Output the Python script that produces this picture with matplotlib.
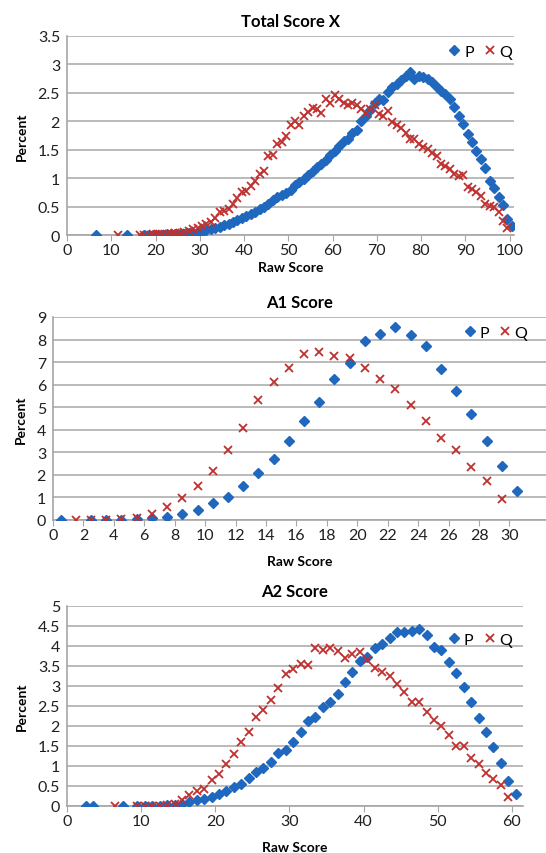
import matplotlib
matplotlib.use("Agg")
import matplotlib.pyplot as plt
from matplotlib.ticker import FuncFormatter

# ---- Total Score X ----
total_p_x = [6.5, 13.5] + [s + 0.5 for s in range(17, 101)]
total_p_y = [0, 0,
             0, 0, 0, 0, 0, 0.01, 0.01, 0.01, 0.02, 0.02, 0.03, 0.04, 0.05,
             0.06, 0.08, 0.1, 0.12, 0.14, 0.17, 0.2, 0.23, 0.26, 0.3,
             0.33, 0.37, 0.41, 0.45, 0.5, 0.55, 0.61, 0.66, 0.71, 0.74,
             0.8, 0.88, 0.94, 0.99, 1.05, 1.13, 1.19, 1.25, 1.32, 1.4,
             1.48, 1.57, 1.65, 1.69, 1.8, 1.85, 2.0, 2.1, 2.2, 2.32,
             2.4, 2.38, 2.52, 2.6, 2.65, 2.72, 2.8,
             2.87, 2.75, 2.79, 2.78, 2.75, 2.69, 2.6, 2.54, 2.48, 2.39,
             2.25, 2.1, 1.95, 1.78, 1.63, 1.48, 1.34, 1.17, 0.95, 0.82,
             0.66, 0.52, 0.29, 0.16]
total_q_x = [11.5, 16.5] + [s + 0.5 for s in range(17, 100)]
total_q_y = [0, 0,
             0, 0, 0.01, 0.01, 0.01, 0.02, 0.02, 0.03, 0.04,
             0.05, 0.07, 0.1, 0.12, 0.15, 0.19, 0.23, 0.3, 0.4, 0.42,
             0.46, 0.55, 0.65, 0.75, 0.78, 0.87, 0.95, 1.07, 1.13, 1.39,
             1.4, 1.6, 1.64, 1.74, 1.93, 2.0, 1.93, 2.09, 2.17, 2.24,
             2.21, 2.15, 2.4, 2.33, 2.46, 2.39, 2.32, 2.28, 2.33, 2.28,
             2.21, 2.15, 2.21, 2.28, 2.12, 2.09, 2.18, 1.98, 1.93, 1.89,
             1.8, 1.69, 1.69, 1.6, 1.54, 1.52, 1.44, 1.39, 1.25, 1.22,
             1.16, 1.07, 1.04, 1.05, 0.84, 0.81, 0.75, 0.69, 0.54, 0.51,
             0.49, 0.4, 0.25, 0.13]

# ---- A1 Score ----
a1_p_x = [0.5] + [s + 0.5 for s in range(2, 31)]
a1_p_y = [0, 0, 0, 0.01, 0.05, 0.07, 0.15, 0.28, 0.43, 0.77, 1.04, 1.51,
          2.08, 2.7, 3.52, 4.41, 5.22, 6.26, 6.97, 7.92, 8.25, 8.56, 8.19,
          7.72, 6.71, 5.7, 4.69, 3.52, 2.39, 1.29]
a1_q_x = [s + 0.5 for s in range(1, 30)]
a1_q_y = [0, 0, 0, 0.04, 0.1, 0.27, 0.58, 0.99, 1.51, 2.18, 3.12, 4.1,
          5.33, 6.14, 6.74, 7.36, 7.45, 7.27, 7.2, 6.74, 6.26, 5.79, 5.1,
          4.41, 3.64, 3.09, 2.37, 1.71, 0.95]

# ---- A2 Score ----
a2_p_x = [2.5, 3.5, 7.5] + [s + 0.5 for s in range(9, 61)]
a2_p_y = [0, 0, 0,
          0, 0, 0, 0.01, 0.02, 0.03, 0.05, 0.1, 0.14, 0.18,
          0.22, 0.3, 0.38, 0.47, 0.55, 0.7, 0.85, 0.95, 1.11, 1.32,
          1.39, 1.6, 1.84, 2.13, 2.23, 2.48, 2.61, 2.79, 3.09, 3.36,
          3.63, 3.73, 3.96, 4.04, 4.19, 4.36, 4.36, 4.38, 4.43, 4.27,
          3.98, 3.9, 3.6, 3.32, 2.97, 2.61, 2.2, 1.86, 1.47, 1.07,
          0.62, 0.31]
a2_q_x = [6.5] + [s + 0.5 for s in range(9, 60)]
a2_q_y = [0,
          0, 0, 0.01, 0.01, 0.03, 0.05, 0.14, 0.27, 0.37, 0.42,
          0.64, 0.81, 1.04, 1.3, 1.6, 1.84, 2.23, 2.41, 2.65, 2.94,
          3.29, 3.42, 3.55, 3.53, 3.96, 3.9, 3.96, 3.88, 3.69, 3.8,
          3.84, 3.65, 3.46, 3.36, 3.24, 3.05, 2.86, 2.61, 2.61, 2.36,
          2.16, 2.01, 1.78, 1.51, 1.5, 1.2, 1.04, 0.82, 0.68, 0.53,
          0.22]

BLUE = "#1f68bd"
RED = "#c0302e"
GRID = "#b4b4b4"

plt.rcParams["font.family"] = ["Lato", "DejaVu Sans"]

W, H = 546, 854
fig = plt.figure(figsize=(W / 100, H / 100), dpi=100)


def make_ax(left, right, top, bottom):
    return fig.add_axes([left / W, 1 - bottom / H, (right - left) / W, (bottom - top) / H])


def style(ax, title, xlim, xticks, ylim, yticks, px, py, qx, qy, leg_anchor, xlabelpad):
    ax.plot(px, py, "D", color=BLUE, markersize=5, label="P", zorder=3)
    ax.plot(qx, qy, "x", color=RED, markersize=6, markeredgewidth=1.3, label="Q", zorder=4)
    ax.set_xlim(*xlim)
    ax.set_ylim(*ylim)
    ax.set_xticks(xticks)
    ax.set_yticks(yticks)
    ax.yaxis.set_major_formatter(FuncFormatter(lambda v, p: f"{v:g}"))
    ax.grid(axis="y", color=GRID, linewidth=1.3)
    ax.set_axisbelow(True)
    for s in ["top", "right"]:
        ax.spines[s].set_visible(False)
    for s in ["left", "bottom"]:
        ax.spines[s].set_color("#a6a6a6")
        ax.spines[s].set_linewidth(1.2)
    ax.tick_params(axis="x", length=4, color="#a6a6a6", labelsize=11.5, pad=2, labelcolor="#202020")
    ax.tick_params(axis="y", length=0, labelsize=11.5, pad=5, labelcolor="#202020")
    ax.set_title(title, fontsize=12, fontweight="bold", pad=7)
    ax.set_xlabel("Raw Score", fontsize=10, fontweight="bold", labelpad=xlabelpad)
    ax.set_ylabel("Percent", fontsize=10, fontweight="bold", labelpad=7)
    ax.legend(loc="upper right", bbox_to_anchor=leg_anchor, ncol=2, frameon=False,
              fontsize=11.5, handletextpad=0.1, columnspacing=0.5, handlelength=1.0,
              borderaxespad=0)


ax1 = make_ax(67, 514, 37, 236)
style(ax1, "Total Score X", (0, 101), range(0, 101, 10), (0, 3.5),
      [0, 0.5, 1, 1.5, 2, 2.5, 3, 3.5], total_p_x, total_p_y, total_q_x, total_q_y,
      (1.01, 0.99), 3)

ax2 = make_ax(53, 546, 318, 521)
style(ax2, "A1 Score", (0, 32.4), range(0, 31, 2), (0, 9), range(0, 10),
      a1_p_x, a1_p_y, a1_q_x, a1_q_y, (0.975, 0.99), 9)

ax3 = make_ax(67, 523, 607, 807)
style(ax3, "A2 Score", (0, 61.5), range(0, 61, 10), (0, 5),
      [0, 0.5, 1, 1.5, 2, 2.5, 3, 3.5, 4, 4.5, 5], a2_p_x, a2_p_y, a2_q_x, a2_q_y,
      (0.99, 0.9), 9)

fig.savefig("out.png", dpi=100)
